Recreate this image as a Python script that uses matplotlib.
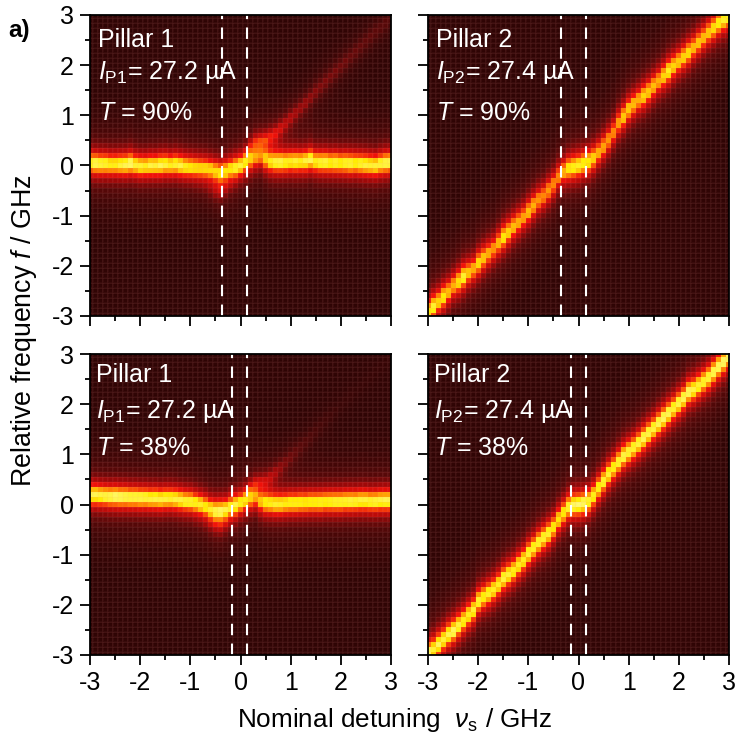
import matplotlib

matplotlib.use("Agg")
import matplotlib.pyplot as plt
import numpy as np
from matplotlib.colors import LinearSegmentedColormap

plt.rcParams["font.family"] = ["Liberation Sans", "DejaVu Sans"]
plt.rcParams["mathtext.fontset"] = "custom"
plt.rcParams["mathtext.rm"] = "Liberation Sans"
plt.rcParams["mathtext.it"] = "Liberation Sans:italic"
plt.rcParams["axes.unicode_minus"] = False

# cell centres / GHz
detuning = np.arange(61) * 0.1 - 3.0
freq = np.arange(61) * 0.1 - 3.0

# main ridge per column, one value per 0.1 GHz of detuning
ridge_p1_90 = [.05, .04, .03, .03, .02, .02, .02, .02, .04, .01,
               -.01, -.01, .0, .0, .01, .02, .01, .02, .0, -.02,
               -.03, -.04, -.05, -.06, -.08, -.11, -.14, -.11, -.07, -.04,
               .0, .06, .12, .16, .18, .12, .08, .07, .07, .07,
               .08, .08, .08, .09, .12, .08, .07, .07, .06, .06,
               .05, .05, .04, .04, .03, .02, .01, .0, .03, .05, .06]
ridge_p2_90 = [-2.92, -2.82, -2.72, -2.62, -2.52, -2.40, -2.32, -2.22, -2.14, -2.07,
               -1.95, -1.85, -1.76, -1.67, -1.55, -1.43, -1.33, -1.22, -1.13, -1.03,
               -.92, -.80, -.69, -.61, -.50, -.38, -.22, -.12, -.06, -.03,
               .0, .04, .08, .15, .26, .38, .51, .67, .85, .98,
               1.12, 1.22, 1.31, 1.39, 1.48, 1.59, 1.69, 1.79, 1.89, 1.99,
               2.08, 2.17, 2.26, 2.36, 2.46, 2.56, 2.66, 2.75, 2.85, 2.92, 2.97]
ridge_p1_38 = [.19, .19, .18, .17, .16, .16, .15, .15, .14, .14,
               .13, .13, .12, .12, .11, .12, .12, .11, .09, .07,
               .06, .03, .0, -.04, -.09, -.12, -.12, -.10, -.05, -.01,
               .03, .08, .12, .13, .06, .03, .02, .01, .01, .02,
               .03, .03, .04, .04, .05, .05, .05, .06, .06, .06,
               .06, .07, .07, .07, .08, .08, .07, .07, .08, .08, .08]
ridge_p2_38 = [-2.97, -2.90, -2.80, -2.70, -2.60, -2.52, -2.42, -2.32, -2.21, -2.11,
               -1.93, -1.85, -1.78, -1.70, -1.60, -1.48, -1.40, -1.32, -1.21, -1.11,
               -.98, -.87, -.76, -.67, -.58, -.46, -.30, -.17, -.05, -.01,
               .0, .02, .07, .18, .33, .47, .61, .73, .85, .97,
               1.05, 1.13, 1.22, 1.32, 1.42, 1.52, 1.62, 1.72, 1.82, 1.92,
               2.02, 2.12, 2.25, 2.30, 2.38, 2.46, 2.54, 2.65, 2.76, 2.86, 2.96]

# peak height of the main ridge per column
peak_p1_90 = [.92, .95, .93, .92, .90, .90, .93, .95, .97, .92,
              .92, .90, .93, .92, .95, .93, .90, .92, .93, .90,
              .88, .86, .85, .85, .84, .83, .84, .85, .86, .90,
              .92, .88, .78, .70, .66, .78, .86, .90, .92, .90,
              .90, .92, .90, .93, .95, .90, .92, .93, .90, .92,
              .90, .92, .93, .90, .92, .93, .92, .92, .93, .95, .95]
peak_p2_90 = [.88, .92, .84, .88, .80, .78, .86, .92, .82, .78,
              .86, .82, .78, .74, .80, .88, .84, .80, .78, .76,
              .80, .78, .74, .72, .74, .72, .72, .78, .88, .90,
              .90, .90, .88, .84, .78, .76, .74, .72, .76, .82,
              .82, .80, .78, .84, .82, .80, .78, .84, .90, .84,
              .82, .84, .86, .80, .82, .80, .82, .86, .90, .92, .92]
peak_p1_38 = [.95, .95, .94, .94, .95, .97, .96, .95, .94, .94,
              .94, .93, .93, .94, .93, .93, .92, .93, .93, .92,
              .92, .90, .90, .88, .88, .90, .92, .90, .90, .92,
              .90, .86, .78, .70, .78, .86, .88, .90, .90, .89,
              .90, .90, .90, .89, .90, .90, .91, .90, .91, .92,
              .92, .92, .93, .92, .93, .93, .92, .93, .94, .95, .95]
peak_p2_38 = [.97, .92, .95, .92, .94, .96, .93, .90, .90, .92,
              .92, .90, .91, .90, .90, .93, .92, .90, .90, .90,
              .92, .91, .92, .92, .92, .88, .86, .88, .92, .96,
              .97, .96, .92, .90, .90, .92, .92, .90, .92, .94,
              .93, .92, .93, .95, .94, .93, .95, .96, .95, .92,
              .94, .95, .96, .93, .92, .92, .93, .95, .96, .97, .97]

# weak second branch per column: where it sits and how strong it is
side_p1_90 = [-.40] * 21 + [-.42, -.42, -.45, -.48, -.50, -.50, -.45, -.40, -.30,
              .05, .25, .40, .48, .50, .52, .58, .64, .74, .84,
              .95, 1.05, 1.15, 1.25, 1.36, 1.48, 1.58, 1.68, 1.78, 1.88,
              1.98, 2.08, 2.18, 2.28, 2.38, 2.48, 2.58, 2.68, 2.76, 2.84, 2.92]
side_h_p1_90 = [.0] * 21 + [.02, .03, .06, .12, .20, .24, .16, .10, .05,
                .0, .05, .24, .36, .40, .44, .44, .42, .38, .34,
                .32, .30, .28, .28, .26, .26, .24, .24, .22, .22,
                .20, .20, .18, .18, .17, .16, .16, .15, .14, .14, .12]
side_p1_38 = [-.30] * 21 + [-.32, -.34, -.36, -.38, -.40, -.42, -.38, -.34, -.25,
              .0, .2, .35, .42, .45, .48, .55, .64, .74, .84,
              .95, 1.05, 1.15, 1.25, 1.36, 1.48, 1.58, 1.68, 1.78, 1.88,
              1.98, 2.08, 2.18, 2.28, 2.38, 2.48, 2.58, 2.68, 2.76, 2.84, 2.92]
side_h_p1_38 = [.0] * 21 + [.02, .03, .06, .12, .18, .20, .14, .08, .05,
                .0, .05, .18, .28, .30, .30, .28, .26, .22, .18,
                .16, .14, .12, .10, .09, .08, .07, .06, .05, .04,
                .03, .03, .03, .02, .02, .02, .02, .02, .02, .02, .02]
side_none = [.0] * 61

# line shape read across a ridge: height against distance from the peak
offset_main = [.0, .07, .12, .17, .24, .3, .4, .53, .7, 1.0, 1.5]
shape_main = [1.0, .97, .80, .66, .50, .38, .24, .14, .08, .03, .0]

# how much wider the ridge is than that shape, per panel
width_p1 = 1.0
width_p2 = 1.12

vlines_p1_90 = [-.37, .13]
vlines_p2_90 = [-.355, .15]
vlines_p1_38 = [-.165, .135]
vlines_p2_38 = [-.155, .15]

panels = [
    (90, 15, ridge_p1_90, peak_p1_90, side_p1_90, side_h_p1_90, vlines_p1_90, width_p1,
     ["Pillar 1", r"$\mathit{I}_{\mathrm{P1}}$= 27.2 µA", r"$\mathit{T}$ = 90%"], 8, 32),
    (428, 15, ridge_p2_90, peak_p2_90, side_none, side_none, vlines_p2_90, width_p2,
     ["Pillar 2", r"$\mathit{I}_{\mathrm{P2}}$= 27.4 µA", r"$\mathit{T}$ = 90%"], 8, 32),
    (90, 354, ridge_p1_38, peak_p1_38, side_p1_38, side_h_p1_38, vlines_p1_38, width_p1,
     ["Pillar 1", r"$\mathit{I}_{\mathrm{P1}}$= 27.2 µA", r"$\mathit{T}$ = 38%"], 6, 28),
    (428, 354, ridge_p2_38, peak_p2_38, side_none, side_none, vlines_p2_38, width_p2,
     ["Pillar 2", r"$\mathit{I}_{\mathrm{P2}}$= 27.4 µA", r"$\mathit{T}$ = 38%"], 6, 28),
]

heat = LinearSegmentedColormap.from_list(
    "heat", [(0.0, "#2e0404"), (0.15, "#5a0808"), (0.35, "#a80808"), (0.55, "#f01008"),
             (0.70, "#ff7a00"), (0.80, "#ffc000"), (0.88, "#fff000"), (1.0, "#ffff90")])


def column_map(ridge, peak, side, side_h, width):
    """61x61 intensity array from the per-column readings."""
    img = np.zeros((freq.size, detuning.size))
    for i in range(detuning.size):
        main = np.interp(np.abs(freq - ridge[i]) / width, offset_main, shape_main)
        wing = np.interp(np.abs(freq - side[i]) * 1.4, offset_main, shape_main)
        img[:, i] = peak[i] * main + side_h[i] * wing
    return np.clip(img, 0, 1)


W = 747.0
fig = plt.figure(figsize=(7.47, 7.47), dpi=100)
edges_x = np.arange(62) * 0.1 - 3.05
edges_y = np.arange(62) * 0.1 - 3.05

for left, top, ridge, peak, side, side_h, vl, width, lines, tx, ty in panels:
    ax = fig.add_axes([left / W, 1 - (top + 301) / W, 301 / W, 301 / W])
    ax.pcolormesh(edges_x, edges_y, column_map(ridge, peak, side, side_h, width), cmap=heat,
                  vmin=0, vmax=1, edgecolors=(1, 0.6, 0.6, 0.05), linewidth=0.3)
    # faint scan lines of the original rendering
    ax.hlines(freq, -3, 3, color=(1, 0.6, 0.6), alpha=0.05, lw=0.3)
    for v in vl:
        ax.axvline(v, color="white", lw=1.5, dashes=(5.5, 4))
    ax.set_xlim(-3, 3)
    ax.set_ylim(-3, 3)
    ax.set_xticks(np.arange(-3, 4))
    ax.set_yticks(np.arange(-3, 4))
    ax.set_xticks(np.arange(-2.5, 3, 1), minor=True)
    ax.set_yticks(np.arange(-2.5, 3, 1), minor=True)
    ax.tick_params(which="major", length=7, width=1.3, labelsize=18, pad=4.5,
                   labelleft=left < 100, labelbottom=top > 100)
    ax.tick_params(which="minor", length=3.6, width=1.3)
    for s in ax.spines.values():
        s.set_linewidth(1.3)
    for line, base in zip(lines, (ty, 64, ty + 73)):
        ax.text(tx / 301, 1 - base / 301, line, transform=ax.transAxes, color="white",
                fontsize=18, ha="left", va="baseline")

fig.text(24 / W, 1 - 331 / W, r"Relative frequency $\mathit{f}$ / GHz", rotation=90,
         fontsize=19.3, ha="center", va="center")
fig.text(395 / W, 1 - 720 / W, r"Nominal detuning $\ \mathit{\nu}_{\mathrm{s}}$ / GHz",
         fontsize=18.8, ha="center", va="center")
fig.text(8 / W, 1 - 37 / W, "a)", fontsize=17.5, fontweight="bold", ha="left", va="baseline")

fig.savefig("out.png", dpi=100)
